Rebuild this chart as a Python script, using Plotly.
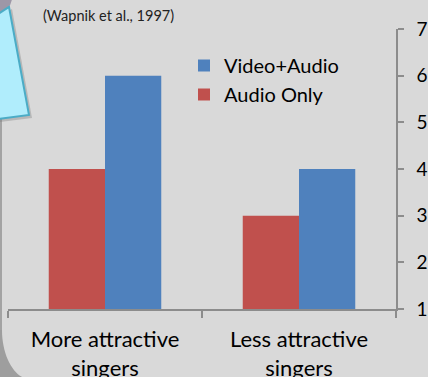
import plotly.graph_objects as go

# Ratings of singers by presentation mode (Wapnik et al., 1997)
categories = ["More attractive<br>singers", "Less attractive<br>singers"]
audio_only = [4, 3]
video_audio = [6, 4]
y_ticks = [1, 2, 3, 4, 5, 6, 7]

RED = "#c0504d"
BLUE = "#4f81bd"
BG = "#d9d9d9"
FONT = "Lato, Carlito, Calibri, sans-serif"

W, H = 428, 377
ML, MR, MT, MB = 8, 32, 29, 68
PW, PH = W - ML - MR, H - MT - MB


def px(x):
    return (x - ML) / PW


def py(y):
    return (H - MB - y) / PH


fig = go.Figure()
fig.add_trace(go.Bar(name="Audio Only", x=categories, y=audio_only, legendgroup="a",
                     marker=dict(color=RED, line=dict(width=0))))
fig.add_trace(go.Bar(name="Video+Audio", x=categories, y=video_audio, legendgroup="v",
                     marker=dict(color=BLUE, line=dict(width=0))))

shapes = []
# gray backdrop on the left edge and the rounded lower-left corner of the panel
shapes.append(dict(type="rect", xref="paper", yref="paper",
                   x0=px(-2), x1=px(2), y0=py(100), y1=py(380),
                   fillcolor="#a3a3a3", line=dict(width=0), layer="above"))
corner = (f"M {px(-2)},{py(330)} L {px(2)},{py(330)} "
          f"C {px(2)},{py(356)} {px(14)},{py(377)} {px(28)},{py(379)} "
          f"L {px(-2)},{py(379)} Z")
shapes.append(dict(type="path", xref="paper", yref="paper", path=corner,
                   fillcolor="#9e9e9e", line=dict(width=0), layer="above"))
# grey disc peeking in at the top-left
shapes.append(dict(type="circle", xref="paper", yref="paper",
                   x0=px(-20), x1=px(12), y0=py(-18), y1=py(13),
                   fillcolor="#9d97a7", line=dict(width=0), layer="above"))
# soft shadow of the callout
shadow = (f"M {px(0)},{py(16)} L {px(12)},{py(9)} L {px(32)},{py(118)} "
          f"L {px(0)},{py(122)} Z")
shapes.append(dict(type="path", xref="paper", yref="paper", path=shadow,
                   fillcolor="rgba(120,120,120,0.35)", line=dict(width=0), layer="above"))
# light blue callout box
callout = (f"M {px(-2)},{py(14)} L {px(9)},{py(7)} L {px(29)},{py(115)} "
           f"L {px(-2)},{py(119)} Z")
shapes.append(dict(type="path", xref="paper", yref="paper", path=callout,
                   fillcolor="#b0edfc", line=dict(color="#4bacc6", width=2), layer="above"))

fig.update_layout(
    width=W, height=H,
    margin=dict(l=ML, r=MR, t=MT, b=MB, pad=0, autoexpand=False),
    paper_bgcolor=BG, plot_bgcolor=BG,
    barmode="group", bargap=0.42, bargroupgap=0,
    font=dict(family=FONT, color="#000000"),
    showlegend=True,
    legend=dict(x=px(184), y=py(46), xanchor="left", yanchor="top",
                traceorder="reversed", bgcolor="rgba(0,0,0,0)",
                font=dict(size=20, family=FONT), itemsizing="constant",
                tracegroupgap=2),
    xaxis=dict(type="category", showgrid=False, zeroline=False, automargin=False,
               showline=True, linecolor="#8c8c8c", linewidth=1.5,
               ticks="outside", tickson="boundaries", ticklen=7,
               tickcolor="#8c8c8c", tickwidth=1.5, ticklabeloverflow="allow",
               tickfont=dict(size=22, family=FONT), ticklabelstandoff=10),
    yaxis=dict(side="right", range=[1, 7], tickvals=y_ticks, automargin=False,
               showgrid=False, zeroline=False,
               showline=True, linecolor="#8c8c8c", linewidth=1.5,
               ticks="outside", ticklen=6, tickcolor="#8c8c8c", tickwidth=1.5,
               ticklabeloverflow="allow",
               tickfont=dict(size=19, family=FONT), ticklabelstandoff=9),
    shapes=shapes,
    annotations=[dict(text="(Wapnik et al., 1997)", xref="paper", yref="paper",
                      x=px(41), y=py(5), xanchor="left", yanchor="top",
                      showarrow=False, font=dict(size=14.5, family=FONT, color="#222222"))],
)

fig.write_html("out.html")
